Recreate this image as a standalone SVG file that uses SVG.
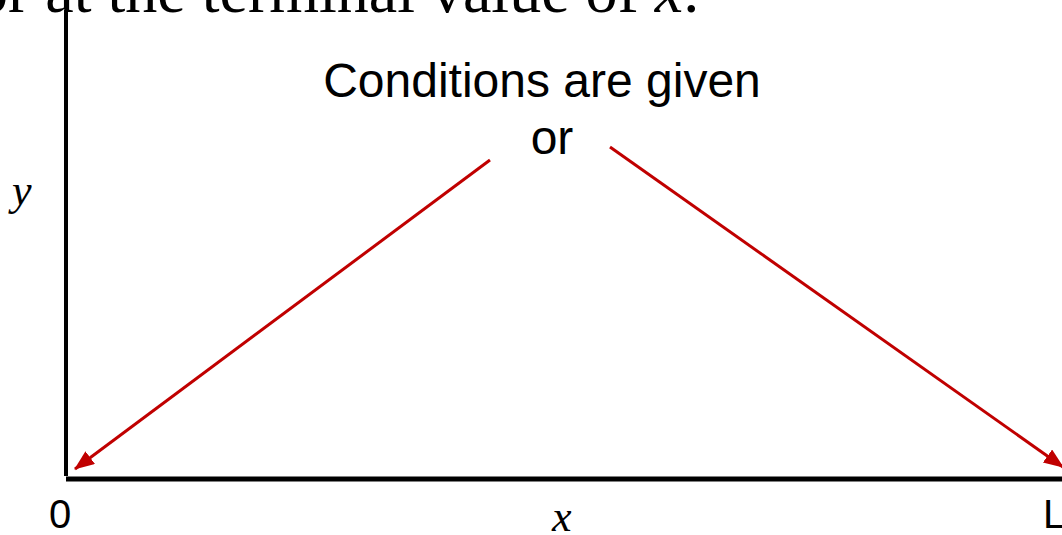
<svg xmlns="http://www.w3.org/2000/svg" width="1062" height="535" viewBox="0 0 1062 535">
<style>
.serif{font-family:"Liberation Serif","Times New Roman",serif;fill:#000}
.sans{font-family:"Liberation Sans",Arial,sans-serif;fill:#000}
.red{stroke:#C00000;stroke-width:3;fill:none}
</style>
<defs>
<marker id="ah" markerUnits="userSpaceOnUse" markerWidth="22" markerHeight="18" refX="19" refY="8" orient="auto">
<path d="M0,0 L20,8 L0,16 Z" fill="#C00000"/>
</marker>
</defs>
<rect width="1062" height="535" fill="#fff"/>
<text class="serif" x="-24" y="12" font-size="64">or at the terminal value of <tspan font-style="italic">x</tspan>.</text>
<g id="axes">
<line x1="66" y1="10" x2="66" y2="476" stroke="#000" stroke-width="4"/>
<line x1="66" y1="479" x2="1062" y2="479" stroke="#000" stroke-width="5"/>
</g>
<g id="label-y"><text class="serif" x="12" y="205" font-size="44" font-style="italic">y</text></g>
<g id="label-x"><text class="serif" x="552" y="531" font-size="44" font-style="italic">x</text></g>
<g id="label-0"><text class="sans" x="49" y="528" font-size="40">0</text></g>
<g id="label-L"><text class="sans" x="1043" y="528" font-size="40">L</text></g>
<g id="conditions">
<text class="sans" x="542" y="97" font-size="48" text-anchor="middle">Conditions are given</text>
<text class="sans" x="552" y="154" font-size="48" text-anchor="middle">or</text>
</g>
<g id="connectors">
<line class="red" x1="490" y1="160" x2="75" y2="469" marker-end="url(#ah)"/>
<line class="red" x1="610" y1="147" x2="1063" y2="467" marker-end="url(#ah)"/>
</g>
</svg>
